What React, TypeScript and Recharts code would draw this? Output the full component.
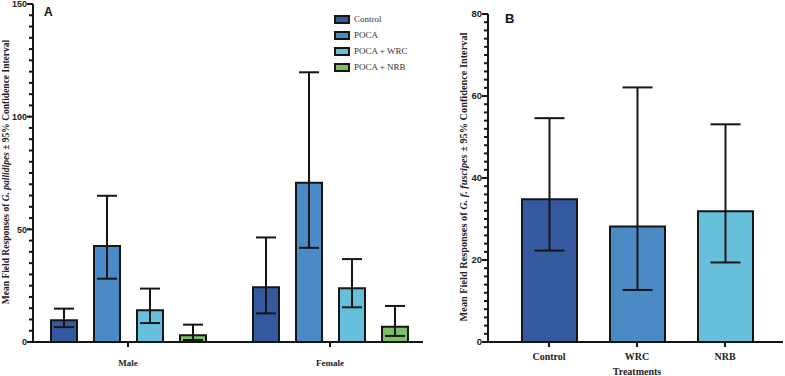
import { Bar, BarChart, Cell, ErrorBar, Label, XAxis, YAxis } from "recharts";

// Panel A: G. pallidipes responses by sex and treatment
const sexes = ["Male", "Female"];
const treatmentsA = ["Control", "POCA", "POCA + WRC", "POCA + NRB"];
const colorsA = ["#34599f", "#4a8bc6", "#67c0db", "#7cc066"];

const controlMean = [9.6, 24.3];
const controlLow = [6.6, 12.7];
const controlHigh = [14.8, 46.4];

const pocaMean = [42.6, 70.7];
const pocaLow = [28.1, 41.8];
const pocaHigh = [64.9, 119.7];

const wrcMean = [14.1, 23.8];
const wrcLow = [8.4, 15.4];
const wrcHigh = [23.7, 36.8];

const nrbMean = [3.0, 6.8];
const nrbLow = [0.9, 2.7];
const nrbHigh = [7.7, 16.0];

// Panel B: G. f. fuscipes responses by treatment
const treatmentsB = ["Control", "WRC", "NRB"];
const colorsB = ["#34599f", "#4a8bc6", "#67c0db"];
const meanB = [34.8, 28.2, 31.9];
const lowB = [22.3, 12.7, 19.4];
const highB = [54.6, 62.1, 53.1];

const majorTicksA = [0, 50, 100, 150];
const majorTicksB = [0, 20, 40, 60, 80];
const ticksA = Array.from({ length: 31 }, (_, i) => i * 5);
const ticksB = Array.from({ length: 41 }, (_, i) => i * 2);

const seriesA = [
  { key: "control", mean: controlMean, low: controlLow, high: controlHigh },
  { key: "poca", mean: pocaMean, low: pocaLow, high: pocaHigh },
  { key: "wrc", mean: wrcMean, low: wrcLow, high: wrcHigh },
  { key: "nrb", mean: nrbMean, low: nrbLow, high: nrbHigh },
];

const dataA = sexes.map((sex, i) => {
  const row: Record<string, any> = { sex };
  seriesA.forEach((s) => {
    row[s.key] = s.mean[i];
    row[s.key + "Err"] = [s.mean[i] - s.low[i], s.high[i] - s.mean[i]];
  });
  return row;
});

const dataB = treatmentsB.map((name, i) => ({
  name,
  mean: meanB[i],
  err: [meanB[i] - lowB[i], highB[i] - meanB[i]],
}));

const INK = "#151515";
const SERIF = "Liberation Serif";
const SANS = "Liberation Sans";

// every tick gets the axis' own 4px line; majors get a longer mark and a label
const yTick = (majors: number[], size: number) => (props: any) => {
  const { x, y, payload } = props;
  if (!majors.includes(payload.value)) return <g />;
  return (
    <g>
      <rect x={x - 2} y={y - 1} width={3} height={2} fill={INK} />
      <text
        x={x - 2}
        y={y + 3.3}
        textAnchor="end"
        fontSize={size}
        fontWeight="bold"
        fontFamily={SANS}
        fill="#222"
      >
        {payload.value}
      </text>
    </g>
  );
};

const xTick = (dy: number, size: number) => (props: any) => {
  const { x, y, payload } = props;
  return (
    <text
      x={x}
      y={y + dy}
      textAnchor="middle"
      fontSize={size}
      fontWeight="bold"
      fontFamily={SERIF}
      fill="#222"
    >
      {payload.value}
    </text>
  );
};

function LegendA() {
  return (
    <div style={{ position: "absolute", left: 334, top: 11, display: "flex", flexDirection: "column" }}>
      {treatmentsA.map((t, i) => (
        <div key={t} style={{ display: "flex", alignItems: "center", height: 16 }}>
          <svg width={16} height={9} style={{ marginRight: 4, display: "block" }}>
            <rect x={1} y={1} width={14} height={7} fill={colorsA[i]} stroke={INK} strokeWidth={2} />
          </svg>
          <span style={{ fontFamily: SERIF, fontSize: 9, color: "#333", lineHeight: "16px" }}>{t}</span>
        </div>
      ))}
    </div>
  );
}

const titleA = () => (
  <g>
    <text
      x={0}
      y={0}
      transform="translate(8.5 172) rotate(-90)"
      textAnchor="middle"
      fontFamily={SERIF}
      fontWeight="bold"
      fontSize={9.5}
      fill="#222"
    >
      Mean Field Responses of <tspan fontStyle="italic">G. pallidipes</tspan>
      {"  \u00b1 95% Confidence Interval"}
    </text>
    <text x={44} y={15.5} fontFamily={SANS} fontWeight="bold" fontSize={12} fill="#111">
      A
    </text>
  </g>
);

const titleB = () => (
  <g>
    <text
      x={0}
      y={0}
      transform="translate(27 177) rotate(-90)"
      textAnchor="middle"
      fontFamily={SERIF}
      fontWeight="bold"
      fontSize={10.3}
      fill="#222"
    >
      Mean Field Responses of <tspan fontStyle="italic">G. f. fuscipes</tspan>
      {"  \u00b1 95% Confidence Interval"}
    </text>
    <text x={65} y={23} fontFamily={SANS} fontWeight="bold" fontSize={13} fill="#111">
      B
    </text>
  </g>
);

const xTitleB = () => (
  <text x={197} y={375} textAnchor="middle" fontFamily={SERIF} fontWeight="bold" fontSize={10} fill="#222">
    Treatments
  </text>
);

export default function App() {
  return (
    <div style={{ position: "absolute", left: 0, top: 0, width: 785, height: 376, background: "#fff" }}>
      <div style={{ position: "absolute", left: 0, top: 0 }}>
        <BarChart
          width={440}
          height={376}
          data={dataA}
          margin={{ top: 4, right: 17, bottom: 0, left: 0 }}
          barSize={26}
          barGap={17}
        >
          <XAxis
            dataKey="sex"
            height={34}
            padding={{ left: -6, right: -8 }}
            axisLine={{ stroke: INK, strokeWidth: 2 }}
            tickLine={{ stroke: INK, strokeWidth: 2 }}
            tickSize={5}
            tickMargin={2}
            tick={xTick(17, 9)}
          />
          <YAxis
            width={33}
            domain={[0, 150.01]}
            ticks={ticksA}
            interval={0}
            tickSize={4}
            tickMargin={0}
            tickLine={{ stroke: INK, strokeWidth: 2 }}
            axisLine={{ stroke: INK, strokeWidth: 2 }}
            tick={yTick(majorTicksA, 9)}
          >
            <Label content={titleA} />
          </YAxis>
          {seriesA.map((s, i) => (
            <Bar
              key={s.key}
              dataKey={s.key}
              name={treatmentsA[i]}
              fill={colorsA[i]}
              stroke={INK}
              strokeWidth={2}
              isAnimationActive={false}
            >
              <ErrorBar
                dataKey={s.key + "Err"}
                direction="y"
                width={10}
                stroke={INK}
                strokeWidth={2}
                isAnimationActive={false}
              />
            </Bar>
          ))}
        </BarChart>
      </div>
      <LegendA />

      <div style={{ position: "absolute", left: 440, top: 0 }}>
        <BarChart
          width={345}
          height={376}
          data={dataB}
          margin={{ top: 14, right: 2, bottom: 0, left: 0 }}
          barSize={55}
        >
          <XAxis
            dataKey="name"
            height={34}
            padding={{ left: 17, right: 14 }}
            axisLine={{ stroke: INK, strokeWidth: 2 }}
            tickLine={{ stroke: INK, strokeWidth: 2 }}
            tickSize={5}
            tickMargin={2}
            tick={xTick(10.5, 10)}
          >
            <Label content={xTitleB} />
          </XAxis>
          <YAxis
            width={48}
            domain={[0, 80.01]}
            ticks={ticksB}
            interval={0}
            tickSize={4}
            tickMargin={0}
            tickLine={{ stroke: INK, strokeWidth: 2 }}
            axisLine={{ stroke: INK, strokeWidth: 2 }}
            tick={yTick(majorTicksB, 9.5)}
          >
            <Label content={titleB} />
          </YAxis>
          <Bar dataKey="mean" stroke={INK} strokeWidth={2} isAnimationActive={false}>
            {dataB.map((d, i) => (
              <Cell key={d.name} fill={colorsB[i]} />
            ))}
            <ErrorBar
              dataKey="err"
              direction="y"
              width={15}
              stroke={INK}
              strokeWidth={2}
              isAnimationActive={false}
            />
          </Bar>
        </BarChart>
      </div>
    </div>
  );
}
